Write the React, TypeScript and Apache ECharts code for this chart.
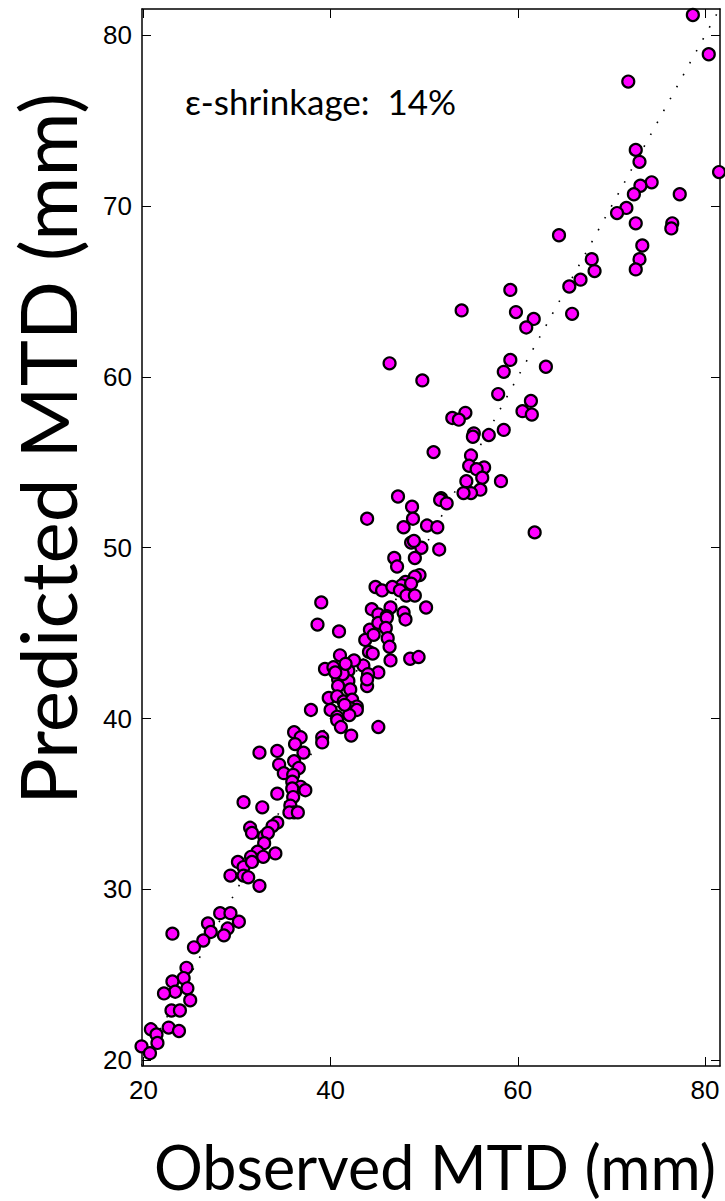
import React, { useEffect, useRef } from "react";
import * as echarts from "echarts";

const observed = [
  78.7, 80.4, 71.8, 81.5, 72.6, 73.0, 74.3, 73.1, 72.4, 77.3, 71.6, 70.6, 72.6, 76.5, 76.4, 64.4, 73.3, 67.9, 73.0, 68.2,
  72.6, 66.7, 65.5, 59.2, 54.0, 59.8, 65.8, 61.7, 60.9, 59.2, 63.0, 46.3, 58.5, 49.8, 57.9, 61.4, 60.5, 61.5, 54.4, 53.0,
  53.7, 55.3, 55.2, 56.9, 58.5, 51.0, 55.0, 54.8, 56.4, 55.6, 56.2, 54.5, 58.2, 56.0, 55.0, 54.2, 47.2, 51.8, 51.7, 52.4,
  48.7, 48.8, 43.9, 47.8, 50.3, 51.4, 61.8, 48.6, 49.7, 48.9, 51.6, 49.0, 46.8, 47.1, 49.5, 49.0, 48.0, 47.6, 48.6, 44.8,
  45.5, 46.6, 47.4, 48.1, 49.0, 50.2, 39.0, 44.4, 46.4, 45.1, 46.0, 47.8, 48.0, 38.6, 40.9, 44.2, 45.1, 46.0, 45.9, 43.7,
  44.6, 46.1, 46.3, 44.1, 44.5, 46.4, 48.5, 49.4, 41.0, 39.4, 40.3, 41.9, 43.5, 45.1, 44.0, 40.8, 41.9, 40.8, 42.1, 43.9,
  43.9, 39.8, 40.7, 41.4, 42.3, 42.8, 37.9, 40.0, 40.7, 40.7, 41.1, 42.2, 45.1, 42.1, 42.8, 41.3, 42.5, 41.6, 40.5, 42.0,
  41.5, 36.1, 36.8, 36.2, 37.1, 39.1, 39.1, 32.4, 34.3, 34.5, 36.1, 36.6, 35.0, 36.0, 35.9, 36.8, 37.3, 35.9, 34.3, 36.0,
  35.7, 36.1, 35.6, 36.5, 30.7, 32.7, 34.3, 33.8, 31.4, 31.6, 32.9, 33.3, 32.9, 34.1, 32.2, 31.5, 30.1, 30.7, 29.3, 30.7,
  31.2, 32.4, 31.6, 32.8, 28.2, 29.3, 30.2, 26.9, 29.0, 27.2, 28.6, 23.1, 26.4, 25.4, 24.6, 24.3, 23.1, 24.7, 23.4, 22.2,
  25.0, 23.0, 23.9, 22.7, 23.8, 20.8, 21.4, 21.5, 19.8, 20.7,
];

const predicted = [
  81.2, 78.9, 77.3, 72.0, 73.3, 72.6, 71.4, 71.2, 70.7, 70.7, 69.9, 69.6, 69.0, 69.0, 68.7, 68.3, 67.7, 66.9, 66.9, 66.2,
  66.3, 65.7, 65.3, 65.1, 63.9, 63.8, 63.7, 63.4, 62.9, 61.0, 60.6, 60.8, 60.3, 59.8, 59.0, 58.6, 58.0, 57.8, 57.9, 57.6,
  57.5, 56.7, 56.5, 56.6, 56.9, 55.6, 55.4, 54.8, 54.7, 54.6, 54.1, 53.9, 53.9, 53.4, 53.2, 53.2, 53.0, 52.9, 52.8, 52.6,
  52.4, 51.7, 51.7, 51.2, 51.3, 51.2, 50.9, 50.3, 50.0, 50.4, 49.9, 49.4, 49.4, 48.9, 48.4, 48.3, 48.0, 47.8, 47.9, 47.7,
  47.5, 47.7, 47.5, 47.2, 47.2, 46.5, 46.8, 46.4, 46.5, 46.1, 46.0, 46.2, 45.8, 45.5, 45.1, 45.2, 45.6, 45.9, 45.3, 44.6,
  44.9, 44.7, 44.2, 43.9, 43.8, 43.4, 43.5, 43.6, 43.7, 42.9, 43.0, 42.8, 43.1, 42.7, 42.6, 42.3, 42.2, 41.9, 41.7, 41.9,
  42.3, 41.2, 41.3, 41.0, 41.1, 40.7, 40.5, 40.5, 40.1, 39.9, 39.5, 39.0, 39.5, 40.6, 40.5, 42.6, 43.4, 43.2, 42.7, 40.2,
  40.8, 39.2, 38.9, 38.5, 38.0, 38.9, 38.6, 38.0, 38.1, 37.3, 37.5, 37.1, 36.8, 36.7, 36.3, 36.0, 35.8, 35.9, 35.6, 35.4,
  34.9, 34.5, 34.5, 34.5, 35.1, 34.8, 33.9, 33.7, 33.6, 33.3, 33.1, 33.3, 32.7, 32.1, 32.2, 31.9, 31.6, 31.3, 30.8, 30.8,
  30.7, 30.2, 31.6, 31.9, 28.6, 28.6, 28.1, 28.0, 27.7, 27.5, 27.3, 27.4, 27.0, 26.6, 25.4, 24.8, 24.6, 24.2, 24.0, 23.9,
  23.5, 22.9, 22.9, 21.9, 21.7, 21.8, 21.5, 21.0, 20.8, 20.4,
];

const xTicks = [20, 40, 60, 80];
const yTicks = [20, 30, 40, 50, 60, 70, 80];
const identityLine = [
  [19, 19],
  [83, 83],
];

const X_MIN = 19.85;
const X_MAX = 81.6;
const Y_MIN = 19.65;
const Y_MAX = 81.55;

export default function App() {
  const ref = useRef<HTMLDivElement>(null);

  useEffect(() => {
    if (!ref.current) return;
    const chart = echarts.init(ref.current, null, { renderer: "svg" });
    const points = observed.map((x, i) => [x, predicted[i]]);
    const lineStyle = { color: "#000", width: 1.5 };
    const tickFont = { fontFamily: "Liberation Sans", fontSize: 26, color: "#000" };
    chart.setOption({
      animation: false,
      backgroundColor: "#fff",
      grid: { left: 142, top: 9, width: 578, height: 1057, containLabel: false },
      xAxis: [
        {
          type: "value",
          min: X_MIN,
          max: X_MAX,
          position: "bottom",
          splitLine: { show: false },
          axisLine: { show: true, onZero: false, lineStyle },
          axisTick: { show: true, inside: true, length: 9, customValues: xTicks, lineStyle: { color: "#000", width: 1 } },
          axisLabel: { show: true, customValues: xTicks, margin: 11, ...tickFont },
        },
        {
          type: "value",
          min: X_MIN,
          max: X_MAX,
          position: "top",
          splitLine: { show: false },
          axisLine: { show: true, onZero: false, lineStyle },
          axisTick: { show: true, inside: true, length: 9, customValues: xTicks, lineStyle: { color: "#000", width: 1 } },
          axisLabel: { show: false },
        },
      ],
      yAxis: [
        {
          type: "value",
          min: Y_MIN,
          max: Y_MAX,
          position: "left",
          splitLine: { show: false },
          axisLine: { show: true, onZero: false, lineStyle },
          axisTick: { show: true, inside: true, length: 9, customValues: yTicks, lineStyle: { color: "#000", width: 1 } },
          axisLabel: { show: true, customValues: yTicks, margin: 10, ...tickFont },
        },
        {
          type: "value",
          min: Y_MIN,
          max: Y_MAX,
          position: "right",
          splitLine: { show: false },
          axisLine: { show: true, onZero: false, lineStyle },
          axisTick: { show: true, inside: true, length: 9, customValues: yTicks, lineStyle: { color: "#000", width: 1 } },
          axisLabel: { show: false },
        },
      ],
      series: [
        {
          type: "line",
          data: identityLine,
          symbol: "none",
          clip: true,
          lineStyle: { color: "#000", width: 1.6, type: [1.6, 12] },
          silent: true,
          z: 1,
        },
        {
          type: "scatter",
          data: points,
          symbol: "circle",
          symbolSize: 12,
          clip: false,
          itemStyle: { color: "#ff00ff", borderColor: "#000", borderWidth: 2.2, opacity: 1 },
          z: 2,
        },
      ],
      graphic: [
        {
          type: "text",
          x: 185,
          y: 101,
          style: { text: "ε-shrinkage:  14%", font: "35px Lato", fill: "#000", verticalAlign: "middle" },
        },
        {
          type: "text",
          x: 435,
          y: 1166,
          style: {
            text: "Observed MTD (mm)",
            font: "61px Lato",
            fill: "#000",
            align: "center",
            verticalAlign: "middle",
          },
        },
        {
          type: "text",
          x: 47,
          y: 449,
          rotation: Math.PI / 2,
          style: {
            text: "Predicted MTD (mm)",
            font: "78px Lato",
            fill: "#000",
            align: "center",
            verticalAlign: "middle",
          },
        },
      ],
    });
    return () => chart.dispose();
  }, []);

  return (
    <div
      ref={ref}
      style={{ position: "fixed", left: 0, top: 0, width: 725, height: 1201, background: "#fff" }}
    />
  );
}
